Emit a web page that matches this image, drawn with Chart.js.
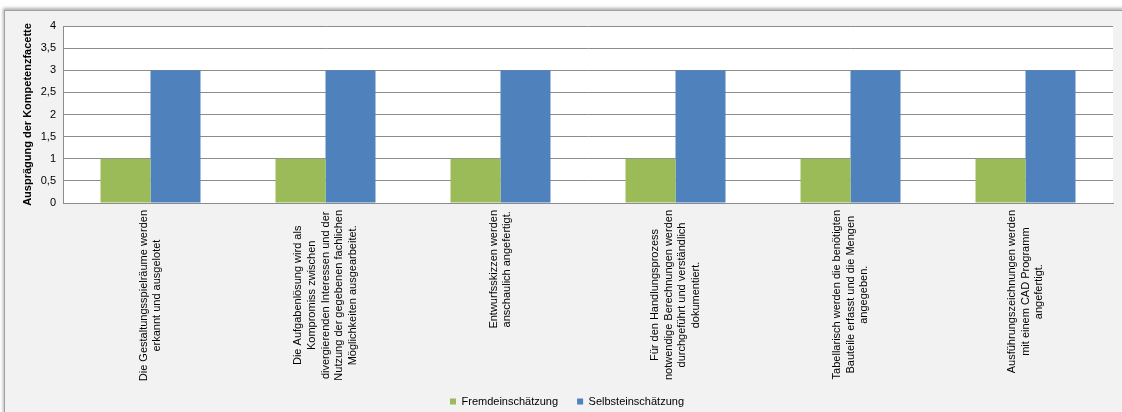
<!DOCTYPE html>
<html>
<head>
<meta charset="utf-8">
<script src="https://cdn.jsdelivr.net/npm/chart.js@4"></script>
<style>
    html, body { margin: 0; padding: 0; background: #fff; }
    #wrap { position: relative; width: 1122px; height: 412px; overflow: hidden; }
    #frame {
        position: absolute; left: 4px; top: 10px; width: 1120px; height: 404px;
        background: #f2f2f2;
        border-top: 1px solid #a0a0a0; border-left: 1px solid #a0a0a0;
        box-shadow: -1px -2px 3px rgba(0, 0, 0, 0.3);
    }
    #chart { position: absolute; left: 0; top: 0; }
</style>
</head>
<body>
<div id="wrap">
    <div id="frame"></div>
    <canvas id="chart" width="1122" height="417"></canvas>
</div>
<script>
// --- Daten ---
const categories = [
    ['Die Gestaltungsspielräume werden', 'erkannt und ausgelotet'],
    ['Die Aufgabenlösung wird als', 'Kompromiss zwischen', 'divergierenden Interessen und der', 'Nutzung der gegebenen fachlichen', 'Möglichkeiten ausgearbeitet.'],
    ['Entwurfsskizzen werden', 'anschaulich angefertigt.'],
    ['Für den Handlungsprozess', 'notwendige Berechnungen werden', 'durchgeführt und verständlich', 'dokumentiert.'],
    ['Tabellarisch werden die benötigten', 'Bauteile erfasst und die Mengen', 'angegeben.'],
    ['Ausführungszeichnungen werden', 'mit einem CAD Programm', 'angefertigt.']
];
const fremd = [1, 1, 1, 1, 1, 1];
const selbst = [3, 3, 3, 3, 3, 3];
const yTickLabels = ['0', '0,5', '1', '1,5', '2', '2,5', '3', '3,5', '4'];

const FONT = '"Liberation Sans", Arial, sans-serif';
Chart.defaults.font.family = FONT;
Chart.defaults.font.size = 11;
Chart.defaults.color = '#000';

// weisser Plotbereich
const plotBg = {
    id: 'plotBg',
    beforeDraw(chart) {
        const a = chart.chartArea;
        chart.ctx.save();
        chart.ctx.fillStyle = '#fff';
        chart.ctx.fillRect(a.left, a.top, a.right - a.left, a.bottom - a.top);
        chart.ctx.restore();
    }
};

// senkrechte, zentrierte Kategorienbeschriftung
const vertLabels = {
    id: 'vertLabels',
    afterDraw(chart) {
        const ctx = chart.ctx;
        const xs = chart.scales.x;
        const top = chart.chartArea.bottom + 7;
        const lh = 13.8;
        ctx.save();
        ctx.font = '11px ' + FONT;
        ctx.fillStyle = '#000';
        ctx.textAlign = 'center';
        ctx.textBaseline = 'middle';
        chart.data.labels.forEach(function (lines, i) {
            const maxW = Math.max.apply(null, lines.map(function (l) { return ctx.measureText(l).width; }));
            ctx.save();
            ctx.translate(xs.getPixelForValue(i), top + maxW / 2);
            ctx.rotate(-Math.PI / 2);
            lines.forEach(function (l, j) {
                ctx.fillText(l, 0, (j - (lines.length - 1) / 2) * lh);
            });
            ctx.restore();
        });
        ctx.restore();
    }
};

const ctx = document.getElementById('chart');

new Chart(ctx, {
    type: 'bar',
    data: {
        labels: categories,
        datasets: [
            {
                label: 'Fremdeinschätzung',
                data: fremd,
                backgroundColor: '#9bbb59',
                categoryPercentage: 0.5714,
                barPercentage: 1.0
            },
            {
                label: 'Selbsteinschätzung',
                data: selbst,
                backgroundColor: '#4f81bd',
                categoryPercentage: 0.5714,
                barPercentage: 1.0
            }
        ]
    },
    options: {
        responsive: false,
        animation: false,
        layout: {
            padding: { top: 26, right: 9, bottom: 0, left: 21 }
        },
        plugins: {
            legend: {
                position: 'bottom',
                labels: {
                    boxWidth: 6,
                    boxHeight: 6,
                    padding: 19,
                    font: { size: 11 }
                }
            },
            tooltip: { enabled: false }
        },
        scales: {
            x: {
                grid: { display: false, drawTicks: false },
                border: { display: true, color: '#8c8c8c' },
                ticks: { display: false },
                afterFit: function (scale) {
                    const leg = scale.chart.legend ? scale.chart.legend.height : 0;
                    scale.height = scale.chart.height - 203 - leg;
                }
            },
            y: {
                min: 0,
                max: 4,
                ticks: {
                    stepSize: 0.5,
                    padding: 7,
                    callback: function (v, i) { return yTickLabels[i]; }
                },
                grid: { color: '#8c8c8c', drawTicks: false },
                border: { display: true, color: '#8c8c8c' },
                title: {
                    display: true,
                    text: 'Ausprägung der Kompetenzfacette',
                    font: { size: 11, weight: 'bold' },
                    padding: { top: 0, bottom: 0 }
                },
                afterFit: function (scale) {
                    scale.width = 42;
                }
            }
        }
    },
    plugins: [plotBg, vertLabels]
});
</script>
</body>
</html>
